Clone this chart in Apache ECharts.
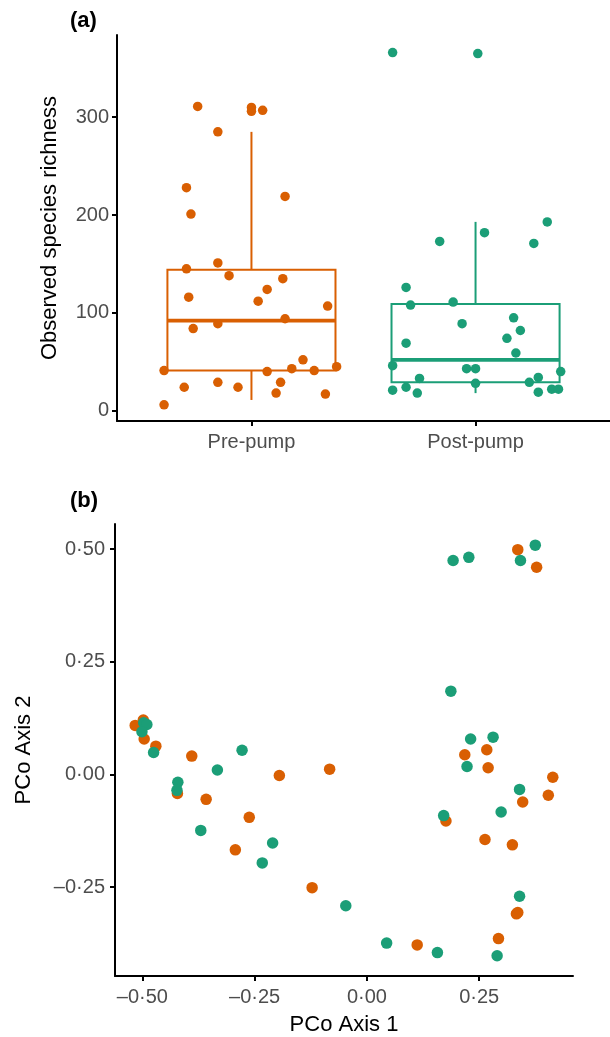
<!DOCTYPE html>
<html>
<head>
<meta charset="utf-8">
<script src="https://cdn.jsdelivr.net/npm/echarts@6/dist/echarts.min.js"></script>
<style>
html, body { margin: 0; padding: 0; background: #fff; }
#main { width: 610px; height: 1037px; }
</style>
</head>
<body>
<div id="main"></div>
<script>
// panel (a): richness per sample, jittered x positions
var groups = ['Pre-pump', 'Post-pump'];
var preX = [0.76, 1.00, 1.00, 1.05, 0.85, 0.71, 1.15, 0.73, 0.71, 0.85, 0.90, 1.14, 1.07, 0.72, 1.03, 1.34,
            1.15, 0.85, 0.74, 1.23, 0.61, 1.07, 1.18, 1.28, 1.38, 0.70, 0.85, 0.94, 1.13, 1.11, 1.33, 0.61];
var preY = [311, 310, 306, 307, 285, 228, 219, 201, 145, 151, 138, 135, 124, 116, 112, 107,
            94, 89, 84, 52, 41, 40, 43, 41, 45, 24, 29, 24, 29, 18, 17, 6];
var postX = [1.63, 2.01, 2.32, 2.04, 1.84, 2.26, 1.69, 1.71, 1.90, 1.94, 2.17, 2.20, 2.14, 1.69, 2.18,
             1.63, 1.96, 2.00, 2.38, 1.75, 2.28, 2.00, 2.24, 1.63, 1.69, 1.74, 2.28, 2.34, 2.37];
var postY = [366, 365, 193, 182, 173, 171, 126, 108, 111, 89, 95, 82, 74, 69, 59,
             46, 43, 43, 40, 33, 34, 28, 29, 21, 24, 18, 19, 22, 22];
// box stats: [lower whisker, q1, median, q3, upper whisker]
var preBox = [11, 41, 92, 144, 285];
var postBox = [18, 29, 52, 109, 193];
var richTicks = [0, 100, 200, 300];

// panel (b): PCoA scores
var prePco1 = [-0.516, -0.498, -0.496, -0.470, -0.390, -0.195, -0.083, -0.422, -0.358, -0.262, -0.293, -0.122, 0.112, 0.293,
               0.333, 0.336, 0.176, 0.263, 0.324, 0.347, 0.404, 0.414, 0.270, 0.336, 0.378, 0.267, 0.218];
var prePco2 = [0.109, 0.121, 0.079, 0.063, 0.041, -0.002, 0.012, -0.042, -0.055, -0.095, -0.167, -0.251, -0.378, -0.364,
               -0.309, -0.306, -0.103, -0.144, -0.156, -0.061, -0.046, -0.006, 0.015, 0.499, 0.460, 0.055, 0.044];
var postPco1 = [-0.497, -0.490, -0.501, -0.475, -0.278, -0.333, -0.421, -0.423, -0.370, -0.210, -0.233, -0.047, 0.044, 0.157,
                0.290, 0.340, 0.171, 0.299, 0.340, 0.223, 0.192, 0.227, 0.375, 0.342, 0.187, 0.231, 0.281];
var postPco2 = [0.115, 0.111, 0.095, 0.049, 0.054, 0.010, -0.017, -0.035, -0.124, -0.152, -0.196, -0.291, -0.374, -0.395,
                -0.402, -0.270, -0.091, -0.083, -0.033, 0.018, 0.475, 0.482, 0.509, 0.475, 0.185, 0.079, 0.083];
var pcoTicks = [-0.5, -0.25, 0, 0.25, 0.5];

var ORANGE = '#D95F02';
var GREEN = '#1B9E77';
var FONT = 'Liberation Sans';
var boxColors = [ORANGE, GREEN];
var halfBox = 0.375;

function zip(xs, ys) {
    var out = [];
    for (var i = 0; i < xs.length; i++) out.push([xs[i], ys[i]]);
    return out;
}

function pcoLabel(v) {
    var s = Math.abs(v).toFixed(2).replace('.', '\u00b7');
    return (v < 0 ? '\u2013' : '') + s;
}

var axisLine = { show: true, onZero: false, lineStyle: { color: '#000', width: 2 } };
var tickText = { color: '#4D4D4D', fontSize: 20, fontFamily: FONT };
var nameText = { color: '#000', fontSize: 22, fontFamily: FONT };
var panelText = { fontSize: 22, fontWeight: 'bold', color: '#000', fontFamily: FONT };

function ticksAt(vals) {
    return { show: true, length: 5, customValues: vals, lineStyle: { color: '#000', width: 2 } };
}

function renderBox(params, api) {
    var x = api.value(0);
    var lo = api.value(1), q1 = api.value(2), med = api.value(3), q3 = api.value(4), hi = api.value(5);
    var c = boxColors[params.dataIndex];
    var tl = api.coord([x - halfBox, q3]);
    var br = api.coord([x + halfBox, q1]);
    var top = api.coord([x, hi]);
    var bot = api.coord([x, lo]);
    var mL = api.coord([x - halfBox, med]);
    var mR = api.coord([x + halfBox, med]);
    return {
        type: 'group',
        children: [
            { type: 'line', shape: { x1: top[0], y1: top[1], x2: top[0], y2: tl[1] }, style: { stroke: c, lineWidth: 2 } },
            { type: 'line', shape: { x1: bot[0], y1: br[1], x2: bot[0], y2: bot[1] }, style: { stroke: c, lineWidth: 2 } },
            { type: 'rect', shape: { x: tl[0], y: tl[1], width: br[0] - tl[0], height: br[1] - tl[1] },
              style: { fill: 'none', stroke: c, lineWidth: 2 } },
            { type: 'line', shape: { x1: mL[0], y1: mL[1], x2: mR[0], y2: mR[1] }, style: { stroke: c, lineWidth: 3.8 } }
        ]
    };
}

var chart = echarts.init(document.getElementById('main'), null, { renderer: 'canvas' });
chart.setOption({
    backgroundColor: '#fff',
    animation: false,
    title: [
        { text: '(a)', left: 70, top: 10, padding: 0, textStyle: panelText },
        { text: '(b)', left: 70, top: 490, padding: 0, textStyle: panelText }
    ],
    grid: [
        { left: 117, right: 0, top: 35, height: 386 },
        { left: 115, right: 37, top: 524, height: 452 }
    ],
    xAxis: [
        {
            type: 'value', gridIndex: 0, min: 0.4, max: 2.6,
            axisLine: axisLine, axisTick: ticksAt([1, 2]),
            axisLabel: Object.assign({ margin: 11, customValues: [1, 2], formatter: function (v) { return groups[Math.round(v) - 1]; } }, tickText),
            splitLine: { show: false }
        },
        {
            type: 'value', gridIndex: 1, min: -0.561, max: 0.459,
            name: 'PCo Axis 1', nameLocation: 'middle', nameGap: 38, nameTextStyle: nameText,
            axisLine: axisLine, axisTick: ticksAt(pcoTicks.slice(0, 4)),
            axisLabel: Object.assign({ margin: 11, customValues: pcoTicks.slice(0, 4), formatter: pcoLabel }, tickText),
            splitLine: { show: false }
        }
    ],
    yAxis: [
        {
            type: 'value', gridIndex: 0, min: -10.5, max: 384,
            name: 'Observed species richness', nameLocation: 'middle', nameGap: 56, nameTextStyle: nameText,
            axisLine: axisLine, axisTick: ticksAt(richTicks),
            axisLabel: Object.assign({ margin: 8, customValues: richTicks }, tickText),
            splitLine: { show: false }
        },
        {
            type: 'value', gridIndex: 1, min: -0.447, max: 0.556,
            name: 'PCo Axis 2', nameLocation: 'middle', nameGap: 80, nameTextStyle: nameText,
            axisLine: axisLine, axisTick: ticksAt(pcoTicks.slice(1)),
            axisLabel: Object.assign({ margin: 10, customValues: pcoTicks.slice(1), formatter: pcoLabel }, tickText),
            splitLine: { show: false }
        }
    ],
    series: [
        {
            type: 'custom', xAxisIndex: 0, yAxisIndex: 0, z: 1,
            encode: { x: 0, y: [1, 2, 3, 4, 5] },
            data: [[1].concat(preBox), [2].concat(postBox)],
            renderItem: renderBox
        },
        {
            type: 'scatter', xAxisIndex: 0, yAxisIndex: 0, z: 3, symbolSize: 9.5,
            itemStyle: { color: ORANGE, opacity: 1 }, data: zip(preX, preY)
        },
        {
            type: 'scatter', xAxisIndex: 0, yAxisIndex: 0, z: 3, symbolSize: 9.5,
            itemStyle: { color: GREEN, opacity: 1 }, data: zip(postX, postY)
        },
        {
            type: 'scatter', xAxisIndex: 1, yAxisIndex: 1, z: 3, symbolSize: 11.5,
            itemStyle: { color: ORANGE, opacity: 1 }, data: zip(prePco1, prePco2)
        },
        {
            type: 'scatter', xAxisIndex: 1, yAxisIndex: 1, z: 4, symbolSize: 11.5,
            itemStyle: { color: GREEN, opacity: 1 }, data: zip(postPco1, postPco2)
        }
    ]
});
</script>
</body>
</html>
